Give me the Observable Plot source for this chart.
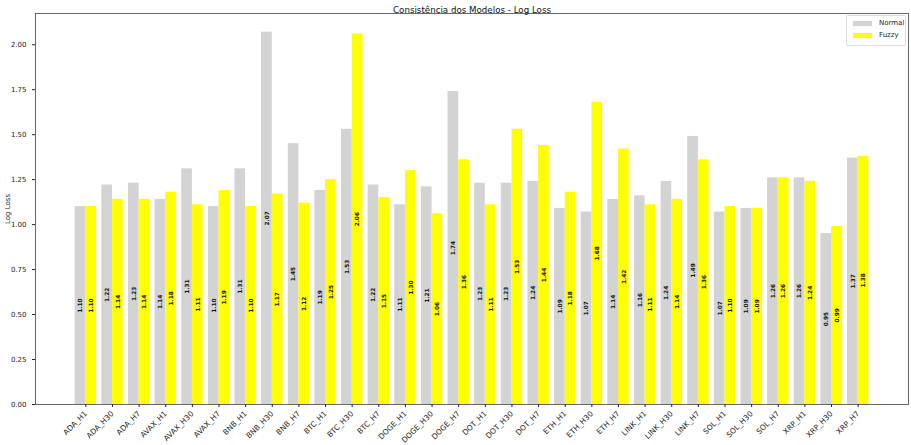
<!DOCTYPE html>
<html>
<head>
<meta charset="utf-8">
<script src="https://cdn.jsdelivr.net/npm/d3@7"></script>
<script src="https://cdn.jsdelivr.net/npm/@observablehq/plot@0.6"></script>
<style>
  html, body { margin: 0; padding: 0; background: #fff; }
  #wrap { position: relative; width: 911px; height: 445px; font-family: "DejaVu Sans", sans-serif; }
  #legend { position: absolute; left: 846px; top: 15px; width: 58px; height: 29px; border: 1px solid #ddd; border-radius: 2px; background: #fff; font-size: 7px; color: #222; }
  #legend .row { position: absolute; left: 6px; display: flex; align-items: center; }
  #legend .sw { width: 19px; height: 5px; margin-right: 7px; }
</style>
</head>
<body>
<div id="wrap">
  <div id="chart"></div>
  <div id="legend">
    <div class="row" style="top:3px"><div class="sw" style="background:#d3d3d3"></div>Normal</div>
    <div class="row" style="top:15px"><div class="sw" style="background:#ffff00"></div>Fuzzy</div>
  </div>
</div>
<script>
const categories = ["ADA_H1","ADA_H30","ADA_H7","AVAX_H1","AVAX_H30","AVAX_H7","BNB_H1","BNB_H30","BNB_H7","BTC_H1","BTC_H30","BTC_H7","DOGE_H1","DOGE_H30","DOGE_H7","DOT_H1","DOT_H30","DOT_H7","ETH_H1","ETH_H30","ETH_H7","LINK_H1","LINK_H30","LINK_H7","SOL_H1","SOL_H30","SOL_H7","XRP_H1","XRP_H30","XRP_H7"];
const normalValues = [1.10,1.22,1.23,1.14,1.31,1.10,1.31,2.07,1.45,1.19,1.53,1.22,1.11,1.21,1.74,1.23,1.23,1.24,1.09,1.07,1.14,1.16,1.24,1.49,1.07,1.09,1.26,1.26,0.95,1.37];
const fuzzyValues = [1.10,1.14,1.14,1.18,1.11,1.19,1.10,1.17,1.12,1.25,2.06,1.15,1.30,1.06,1.36,1.11,1.53,1.44,1.18,1.68,1.42,1.11,1.14,1.36,1.10,1.09,1.26,1.24,0.99,1.38];
const yTicks = [0,0.25,0.5,0.75,1.0,1.25,1.5,1.75,2.0];

const w = 0.4;
const rows = [];
categories.forEach((c, i) => {
  rows.push({i, series: "Normal", v: normalValues[i], x1: i - w, x2: i});
  rows.push({i, series: "Fuzzy", v: fuzzyValues[i], x1: i, x2: i + w});
});
const yMax = Math.max(...normalValues, ...fuzzyValues) * 1.05;
const xPad = (29 + 2 * w) * 0.05;

const plot = Plot.plot({
  width: 911,
  height: 445,
  marginLeft: 35,
  marginRight: 3,
  marginTop: 13,
  marginBottom: 41,
  style: {fontFamily: "DejaVu Sans, sans-serif", fontSize: "7px", color: "#222", background: "#fff"},
  x: {domain: [-w - xPad, 29 + w + xPad]},
  y: {domain: [0, yMax]},
  color: {domain: ["Normal", "Fuzzy"], range: ["#d3d3d3", "#ffff00"]},
  marks: [
    Plot.rectY(rows, {x1: "x1", x2: "x2", y1: 0, y2: "v", fill: "series"}),
    Plot.text(rows, {x: d => (d.x1 + d.x2) / 2, y: d => d.v / 2, text: d => d.v.toFixed(2), rotate: -90, fontSize: 5.8, fontWeight: "bold", fill: "#111"}),
    Plot.frame({stroke: "#444", strokeWidth: 0.8}),
    Plot.axisY({ticks: yTicks, tickFormat: d3.format(".2f"), tickSize: 3, label: "Log Loss", labelAnchor: "center", labelArrow: "none", labelOffset: 30, fontSize: 7}),
    Plot.axisX({ticks: d3.range(categories.length), tickFormat: i => categories[i], tickRotate: -45, tickSize: 3, tickPadding: 5, label: null, fontSize: 7.5}),
    Plot.text(["Consistência dos Modelos - Log Loss"], {frameAnchor: "top", dy: -7, fontSize: 8.7, fill: "#111"})
  ]
});
document.getElementById("chart").appendChild(plot);
</script>
</body>
</html>
